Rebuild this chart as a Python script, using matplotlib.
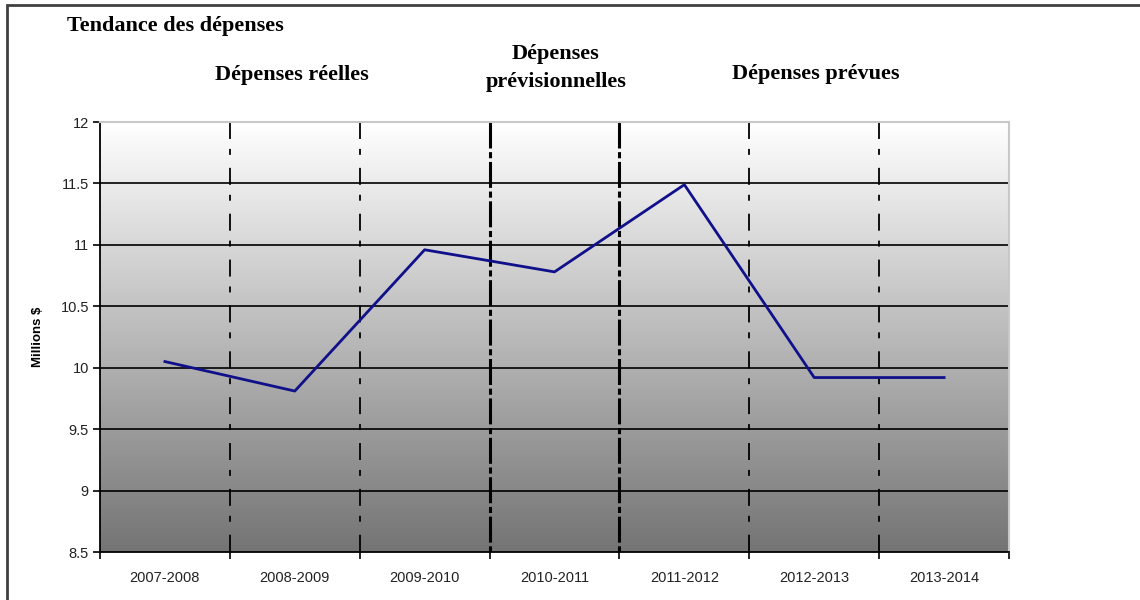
import numpy as np
import matplotlib.pyplot as plt
from matplotlib.colors import LinearSegmentedColormap
from matplotlib.patches import Rectangle

# données
periodes = ['2007-2008', '2008-2009', '2009-2010', '2010-2011', '2011-2012', '2012-2013', '2013-2014']
depenses = [10.05, 9.81, 10.96, 10.78, 11.49, 9.92, 9.92]
y_ticks = [8.5, 9, 9.5, 10, 10.5, 11, 11.5, 12]
y_labels = ['8.5', '9', '9.5', '10', '10.5', '11', '11.5', '12']
limites_fortes = [2.5, 3.5]  # séparation réelles / prévisionnelles / prévues

fig = plt.figure(figsize=(11.4, 6), dpi=100)
ax = fig.add_axes([100 / 1140, 48 / 600, 909 / 1140, 430 / 600])

# fond dégradé
cmap = LinearSegmentedColormap.from_list('fond', ['#ffffff', '#747474'])
grad = np.linspace(0, 1, 256).reshape(-1, 1)
ax.imshow(grad, aspect='auto', cmap=cmap, extent=[0, 1, 0, 1], transform=ax.transAxes,
          zorder=0)

x = np.arange(len(periodes))
ax.set_xlim(-0.5, len(periodes) - 0.5)
ax.set_ylim(8.5, 12)

# grille horizontale
for v in y_ticks[1:-1]:
    ax.axhline(v, color='black', lw=1.2, zorder=1)

# séparateurs verticaux (tracés du haut vers le bas)
for b in np.arange(0.5, len(periodes) - 0.5):
    if b in limites_fortes:
        ax.plot([b, b], [12, 8.5], color='black', lw=2.2, dashes=(8.5, 1.2, 2.0, 1.2), zorder=1)
    else:
        ax.plot([b, b], [12, 8.5], color='black', lw=1.3, dashes=(9.4, 5.5, 3.3, 7.2), zorder=1)

ax.plot(x, depenses, color='#10108a', lw=2, zorder=3)

ax.set_yticks(y_ticks)
ax.set_yticklabels(y_labels, fontsize=10.5, family='Liberation Sans', color='#222222')
ax.set_xticks(np.arange(-0.5, len(periodes)))
ax.set_xticklabels([])
ax.set_xticks(x, minor=True)
ax.set_xticklabels(periodes, minor=True, fontsize=10.5, family='Liberation Sans', color='#222222')
ax.tick_params(axis='x', which='minor', length=0, pad=14)
ax.tick_params(axis='both', which='major', length=5, width=1.2, direction='out')
ax.tick_params(axis='y', pad=3)

for s in ['top', 'right']:
    ax.spines[s].set_color('#c8c8c8')
    ax.spines[s].set_linewidth(1.5)
for s in ['left', 'bottom']:
    ax.spines[s].set_color('black')
    ax.spines[s].set_linewidth(1.3)

ax.set_ylabel('Millions $', fontsize=9.5, fontweight='bold', family='Liberation Sans', labelpad=12)

# titres
serif = dict(family='Liberation Serif', fontweight='bold', color='black')
fig.text(67 / 1140, 1 - 26 / 600, 'Tendance des dépenses', fontsize=16, va='center', ha='left',
         **serif)
fig.text(292 / 1140, 1 - 75 / 600, 'Dépenses réelles', fontsize=16, va='center', ha='center',
         **serif)
fig.text(556 / 1140, 1 - 68 / 600, 'Dépenses\nprévisionnelles', fontsize=16, va='center',
         ha='center', linespacing=1.6, **serif)
fig.text(816 / 1140, 1 - 74 / 600, 'Dépenses prévues', fontsize=16, va='center', ha='center',
         **serif)

# cadre extérieur
fig.patches.append(Rectangle((7 / 1140, -0.1), 1.2, 1 - 5 / 600 + 0.1, transform=fig.transFigure,
                             fill=False, edgecolor='#404040', lw=2))

fig.savefig('out.png', dpi=100)
